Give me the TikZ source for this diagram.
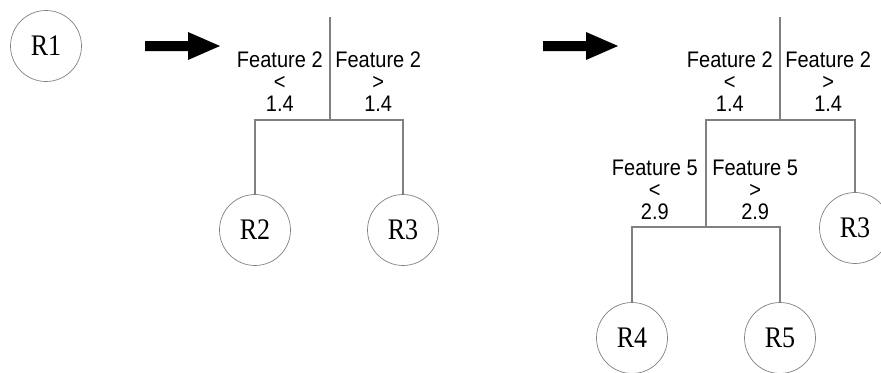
\documentclass[tikz,border=0pt]{standalone}
\usepackage{fontspec}
\setmainfont{Liberation Serif}
\setsansfont{Liberation Sans}
\newfontfamily\rulefont[FakeStretch=0.89]{Liberation Sans}
\newfontfamily\leaffont[FakeStretch=0.87]{Liberation Serif}
\usetikzlibrary{positioning}

\begin{document}
\begin{tikzpicture}[x=0.02cm, y=-0.02cm]
	\tikzset{
		leaf/.style={circle, draw=gray, minimum size=1.42cm, inner sep=0pt, font=\leaffont\fontsize{17}{17}\selectfont},
		branch/.style={draw=gray, line width=0.6pt},
		rule/.style={align=center, inner sep=0pt, font=\rulefont\fontsize{12.8}{12.7}\selectfont},
		bigarrow/.pic={
			code={
				\fill[black]	(0,-5) -- (43,-5) -- (43,-14) -- (75,0) -- (43,14) -- (43,5) -- (0,5) -- cycle;
			}
		},
	}
	\useasboundingbox (0,0) rectangle (881,372);

	% start
	\node[leaf] (r1) at (46,46) {R1};
	\pic at (145,46) {bigarrow};

	% first split
	\coordinate (t1) at (330,17);
	\coordinate (s1) at (330,120);
	\node[leaf] (r2) at (255,230) {R2};
	\node[leaf] (r3) at (403,230) {R3};

	\draw[branch]	(t1) -- (s1);
	\draw[branch]	(r2.north) |- (s1) -| (r3.north);
	\node[rule, above left=0.16cm and 0.14cm of s1] {Feature 2\\<\\1.4};
	\node[rule, above right=0.16cm and 0.1cm of s1] {Feature 2\\>\\1.4};

	\pic at (543,46) {bigarrow};

	% second split
	\coordinate (t2) at (780,17);
	\coordinate (s2) at (780,120);
	\coordinate (s3) at (706,227);
	\node[leaf] (r3b) at (855,228) {R3};
	\node[leaf] (r4) at (632,338) {R4};
	\node[leaf] (r5) at (780,338) {R5};

	\draw[branch]	(t2) -- (s2);
	\draw[branch]	(s3) |- (s2) -| (r3b.north);
	\draw[branch]	(r4.north) |- (s3) -| (r5.north);
	\node[rule, above left=0.16cm and 0.14cm of s2] {Feature 2\\<\\1.4};
	\node[rule, above right=0.16cm and 0.1cm of s2] {Feature 2\\>\\1.4};
	\node[rule, above left=0.13cm and 0.16cm of s3] {Feature 5\\<\\2.9};
	\node[rule, above right=0.13cm and 0.12cm of s3] {Feature 5\\>\\2.9};
\end{tikzpicture}
\end{document}
